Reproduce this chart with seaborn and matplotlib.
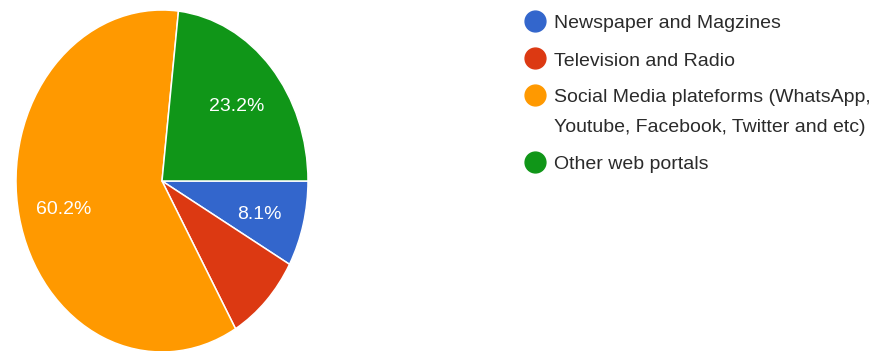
import numpy as np
import matplotlib
matplotlib.use("Agg")
import matplotlib.pyplot as plt
import seaborn as sns

# Share of respondents by main news source
categories = [
    "Newspaper and Magzines",
    "Television and Radio",
    "Social Media plateforms (WhatsApp,\nYoutube, Facebook, Twitter and etc)",
    "Other web portals",
]
shares = [8.1, 8.5, 60.2, 23.2]
show_label = [True, False, True, True]
colors = sns.color_palette(["#3366CC", "#DC3912", "#FF9900", "#109618"])

sns.set_theme(style="white")
plt.rcParams["font.family"] = ["Liberation Sans", "DejaVu Sans"]

W, H = 874, 351
fig = plt.figure(figsize=(W / 100, H / 100), dpi=100)
fig.patch.set_facecolor("white")

# pie area (in pixels): x 16..308, y 10..352 -> slightly elliptical
px_l, px_r, py_t, py_b = 16, 308, 10, 352
ax = fig.add_axes([px_l / W, 1 - py_b / H, (px_r - px_l) / W, (py_b - py_t) / H])

wedges, _ = ax.pie(
    shares,
    colors=colors,
    startangle=0,
    counterclock=False,
    wedgeprops=dict(edgecolor="white", linewidth=1.1),
)
ax.set_aspect("auto")
ax.set_xlim(-1, 1)
ax.set_ylim(-1, 1)
ax.axis("off")
for w in wedges:
    w.set_clip_on(False)

for w, v, show in zip(wedges, shares, show_label):
    if not show:
        continue
    mid = np.deg2rad((w.theta1 + w.theta2) / 2)
    r = 0.69
    ax.text(r * np.cos(mid), r * np.sin(mid) - 0.012, f"{v:.1f}%",
            ha="center", va="center_baseline", color="white", fontsize=14)

# legend: circle markers with (possibly wrapped) labels
circle_y = [20.5, 58.3, 94.8, 161.7]
marker_x = 535
text_x = 554
line_gap = 30
for lab, c, cy in zip(categories, colors, circle_y):
    fig.add_artist(plt.Line2D([marker_x / W], [1 - cy / H], marker="o",
                              markersize=15, color=c, linestyle="none",
                              transform=fig.transFigure))
    for i, line in enumerate(lab.split("\n")):
        fig.text(text_x / W, 1 - (cy + 7.2 + i * line_gap) / H, line,
                 ha="left", va="baseline", fontsize=14, color="#2b2b2b")

fig.savefig("out.png", dpi=100, facecolor="white")
